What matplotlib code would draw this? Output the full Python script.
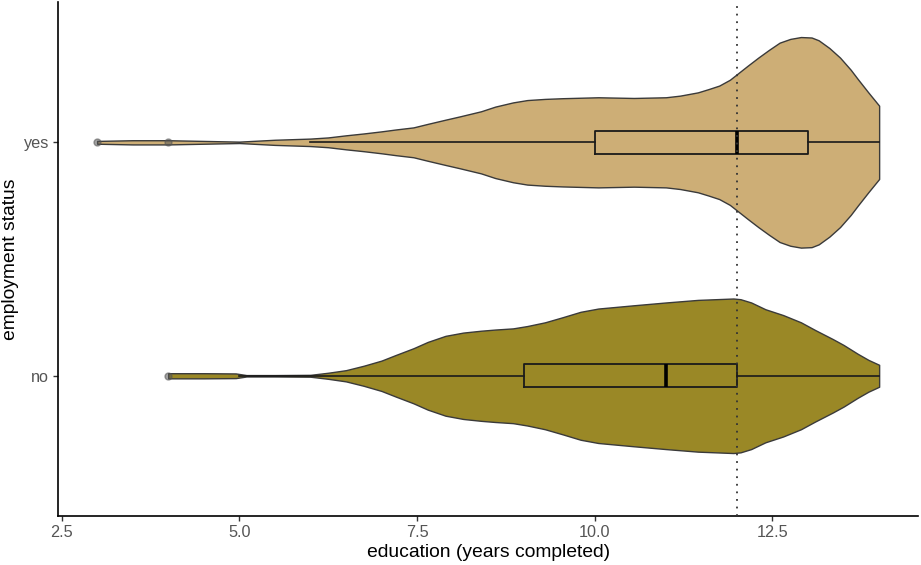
import matplotlib
matplotlib.use("Agg")
import matplotlib.pyplot as plt
import numpy as np

# categories (bottom to top)
GROUPS = ["no", "yes"]
POS = {"no": 1, "yes": 2}
FILL = {"no": "#9a8826", "yes": "#cdae76"}

# violin outline: x (years) and half-width (in category units)
yes_x = [3.0, 3.5, 4.0, 4.5, 5.0, 5.5, 6.0, 6.25, 6.5, 6.75, 7.0, 7.2, 7.45, 7.65, 7.9, 8.1,
         8.4, 8.6, 8.85, 9.05, 9.3, 9.55, 9.8, 10.05, 10.55, 11.0, 11.2, 11.45, 11.6, 11.75,
         11.9, 12.0, 12.15, 12.3, 12.45, 12.6, 12.75, 12.9, 13.05, 13.15, 13.3, 13.45, 13.6,
         13.7, 13.85, 14.0]
yes_hw = [0.006, 0.009, 0.009, 0.006, 0.003, 0.011, 0.016, 0.021, 0.030, 0.038, 0.047, 0.055,
          0.064, 0.079, 0.097, 0.111, 0.133, 0.153, 0.171, 0.181, 0.186, 0.189, 0.191, 0.193,
          0.190, 0.193, 0.200, 0.214, 0.228, 0.243, 0.268, 0.292, 0.328, 0.363, 0.396, 0.427,
          0.443, 0.451, 0.449, 0.437, 0.404, 0.363, 0.311, 0.271, 0.213, 0.157]
no_x = [4.0, 4.5, 4.95, 5.1, 5.5, 6.0, 6.25, 6.5, 6.75, 7.0, 7.2, 7.45, 7.65, 7.9, 8.15, 8.4,
        8.6, 8.85, 9.05, 9.3, 9.55, 9.8, 10.05, 10.55, 11.0, 11.45, 11.95, 12.05, 12.2, 12.4,
        12.65, 12.9, 13.1, 13.35, 13.5, 13.7, 13.85, 14.0]
no_hw = [0.011, 0.011, 0.010, 0.003, 0.003, 0.004, 0.013, 0.024, 0.043, 0.065, 0.089, 0.118,
         0.145, 0.171, 0.185, 0.193, 0.198, 0.203, 0.213, 0.229, 0.251, 0.274, 0.288, 0.302,
         0.314, 0.325, 0.331, 0.328, 0.314, 0.285, 0.260, 0.229, 0.196, 0.157, 0.132, 0.094,
         0.068, 0.047]

# boxplot summaries
q1 = {"no": 9, "yes": 10}
med = {"no": 11, "yes": 12}
q3 = {"no": 12, "yes": 13}
whislo = {"no": 5, "yes": 6}
whishi = {"no": 14, "yes": 14}
fliers = {"no": [4], "yes": [3, 4]}

REF_LINE = 12
XTICKS = [2.5, 5.0, 7.5, 10.0, 12.5]

plt.rcParams.update({"font.family": ["Liberation Sans", "DejaVu Sans"]})
fig = plt.figure(figsize=(9.21, 5.65), dpi=100)
ax = fig.add_axes([0.063, 0.087, 0.934, 0.909])

outlines = {"no": (no_x, no_hw), "yes": (yes_x, yes_hw)}
for g in GROUPS:
    xs, hw = np.array(outlines[g][0]), np.array(outlines[g][1])
    y0 = POS[g]
    ax.fill_between(xs, y0 - hw, y0 + hw, facecolor=FILL[g], edgecolor="#3a3a3a", lw=1.0,
                    joinstyle="round", zorder=2)

stats = [dict(med=med[g], q1=q1[g], q3=q3[g], whislo=whislo[g], whishi=whishi[g],
              fliers=fliers[g]) for g in GROUPS]
ax.bxp(stats, positions=[POS[g] for g in GROUPS], widths=0.1, orientation="horizontal",
       showcaps=False, manage_ticks=False,
       boxprops=dict(color="#1a1a1a", lw=1.3),
       whiskerprops=dict(color="#1a1a1a", lw=1.2),
       medianprops=dict(color="black", lw=2.6, solid_capstyle="butt"),
       flierprops=dict(marker="o", markersize=5, markerfacecolor="#555555",
                       markeredgecolor="#555555", alpha=0.55),
       zorder=3)

ax.axvline(REF_LINE, color="#333333", ls=(0, (1, 3.2)), lw=1.3, zorder=4)

ax.set_xlim(2.45, 14.55)
ax.set_ylim(0.4, 2.6)
ax.set_xticks(XTICKS)
ax.set_xticklabels([f"{t:.1f}" for t in XTICKS])
ax.set_yticks([POS[g] for g in GROUPS])
ax.set_yticklabels(GROUPS)
ax.tick_params(labelsize=11.7, labelcolor="#555555", color="#333333", length=3.5, width=1,
               pad=3)
for s in ("top", "right"):
    ax.spines[s].set_visible(False)
for s in ("left", "bottom"):
    ax.spines[s].set_linewidth(1.2)
ax.set_xlabel("education (years completed)", fontsize=13.9, labelpad=3)
ax.set_ylabel("employment status", fontsize=13.9, labelpad=3)

fig.savefig("out.png", dpi=100, facecolor="white")
